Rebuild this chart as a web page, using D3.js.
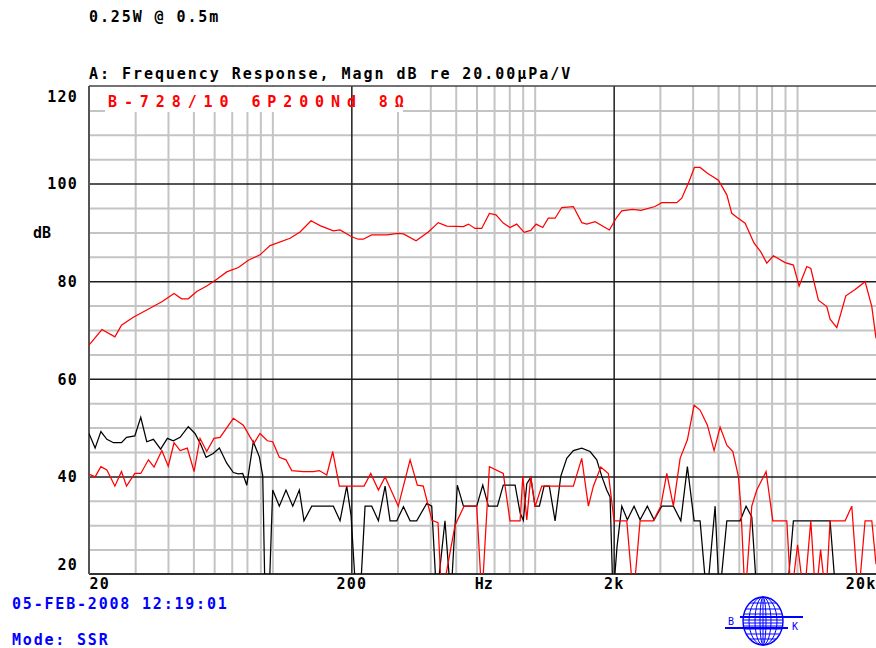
<!DOCTYPE html>
<html><head><meta charset="utf-8">
<script src="https://cdn.jsdelivr.net/npm/d3@7"></script>
<style>
html,body{margin:0;padding:0;background:#fff;}
svg{display:block;}
text{font-family:"DejaVu Sans Mono",monospace;}
</style></head><body>
<svg id="c" width="876" height="648"></svg>
<script>
// ---- data ----
const mainFreq = [20,22.4,25.1,26.6,29.5,33.2,37.9,42.2,45.1,47.8,51.5,56.2,61.4,67,74.2,81,89.7,98,116.8,127.5,140.4,152,170.8,181,200.7,212.6,222,239,273,302,316,353,393,429,462,535,559,592,628,672,712,759,805,854,911,966,1012,1073,1127,1196,1268,1404,1512,1580,1699,1926,2055,2147,2362,2544,2876,3050,3480,3636,3854,4063,4270,4554,5015,5400,5640,5894,6340,6861,7276,7670,8128,9008,9686,10184,10896,11286,12064,12988,13366,14178,15344,16650,18177,19278,20000];
const mainDb = [66.9,70.1,68.6,71.0,72.6,74.1,75.8,77.5,76.4,76.4,77.9,79.0,80.4,81.9,82.8,84.3,85.4,87.3,88.8,90.1,92.4,91.4,90.3,90.5,89.1,88.6,88.6,89.5,89.5,89.8,89.7,88.3,90.1,92.0,91.3,91.2,91.7,90.8,90.8,93.9,93.6,91.9,91.0,91.7,90.0,90.4,91.7,91.0,92.9,92.9,95.1,95.3,92.0,91.7,92.2,90.5,93.1,94.4,94.7,94.5,95.3,96.1,96.1,97.0,100.1,103.3,103.3,102.1,100.7,97.7,93.9,93.1,91.9,87.8,86.0,83.7,85.2,83.8,83.3,79.0,83.0,82.6,76.1,74.8,72.2,70.5,77.0,78.3,79.9,74.8,68.3];

const h2Freq = [20,21.1,22.2,23.4,25.1,26.6,27.8,29.9,31.5,33.7,35.4,37.9,40.1,42.2,44.5,47.4,50.3,53.0,56.2,59.9,63.2,71.0,77.5,82.2,85.1,89.7,95.7,100.3,106.3,112.7,118.5,131.2,143.3,151.0,161.2,169.9,180.0,223.6,237.2,253.6,269,302,335,357,376,406,428,442,497,538,601,629,672,759,805,880,901,933,966,1003,1064,1404,1511,1602,1674,1786,1909,2007,2244,2378,2522,2834,3024,3188,3378,3584,3820,4052,4270,4554,4828,5090,5400,5692,5978,6106,6339,6722,7024,7622,8084,9142,9494,10050,10640,11284,11780,12300,12874,13366,15250,16172,17140,18172,19278,20000];
const h2Db = [40.5,39.9,42.0,41.3,38.0,41.0,38.0,40.6,40.6,43.4,41.9,45.3,42.1,46.9,45.3,45.8,41.0,47.8,45.1,47.8,48.0,51.9,50.5,48.1,46.8,48.8,47.3,47.1,43.9,43.4,41.2,41.0,41.0,41.2,40.3,45.1,38.0,38.0,40.6,37.2,39.9,33.9,43.4,38.2,38.0,31,30.5,15,30,33.9,33.9,15,42.0,40.6,30.9,30.9,40.0,31.1,40.0,33.8,38.0,38.0,43.7,33.9,38.0,41.9,40.6,30.9,30.9,15,30.9,30.9,33.9,40.6,33.9,43.7,47.5,54.6,53.6,50.5,45.3,50.1,46.4,45.1,40.0,33.9,15,33.9,37.2,41.0,30.9,30.9,15,26,15,30.9,15,25,15,30.9,30.9,33.9,15,30.9,30.9,22];

const h3Freq = [20,21.1,22.2,23.4,24.8,26.6,27.8,29.9,31.5,33.2,35.2,37.5,39.8,41.9,44.5,47.8,50.7,53.3,55.9,59.5,62.8,67.0,71.0,74.2,77.1,79.9,84.6,89.2,91.9,93.8,97.1,100.3,106.3,112.7,119.6,126.7,132,141.3,170.8,181.1,192.1,199.5,208.5,216,225.6,239.2,253.6,269,281,298,316,335,355,388,405,423,455,479,507,535,601,634,666,721,759,842,880,905,933,966,1003,1042,1086,1137,1196,1257,1325,1404,1511,1626,1724,1802,1882,1938,1989,2060,2148,2256,2392,2522,2688,2852,3050,3378,3606,3820,4052,4270,4530,4872,5058,5400,6068,6394,6722,7042,9142,9686,13366,14092,20000];
const h3Db = [48.8,45.8,49.2,47.6,46.9,46.9,48.0,48.3,52.1,47.1,47.6,45.6,47.8,47.3,48.0,50.2,48.8,46.6,43.9,44.7,45.8,42.7,40.8,40.5,40.6,38.2,47.1,44.0,40.1,15,15,37.2,33.9,37.2,33.9,37.2,30.9,33.9,33.9,30.9,38.0,32,15,15,33.9,33.9,30.9,38.0,30.9,30.9,33.8,30.9,30.9,34.5,33.9,15,30.9,15,38.2,33.9,33.9,38.2,33.9,33.9,38.2,38.2,32.5,31,38.5,39.8,33.9,33.9,38.0,38.0,30.9,40.0,43.7,45.3,45.8,45.1,43.4,40.0,37.2,35.8,15,25.6,33.9,31.1,33.9,31.1,33.9,31.1,33.9,33.9,30.9,42.0,30.9,30.9,15,33.9,15,30.9,30.9,33.9,31.7,15,15,30.9,30.9,15,15];

const xTickVals = [20,200,2000,20000];
const xTickLabels = ["20","200","2k","20k"];
const xMinorTicks = [30,40,50,60,70,80,90,100,300,400,500,600,700,800,900,1000,3000,4000,5000,6000,7000,8000,9000,10000];
const xMajorTicks = [200,2000];
const yTickVals = [20,40,60,80,100,120];
const yTickLabels = ["20","40","60","80","100","120"];
const yMinorTicks = [25,30,35,45,50,55,65,70,75,85,90,95,105,110,115];
const yMajorTicks = [40,60,80,100];

const header1 = "0.25W @ 0.5m";
const header2 = "A: Frequency Response, Magn dB re 20.00\u00B5Pa/V";
const legendText = "B-728/10 6P200Nd 8\u03A9";
const dateText = "05-FEB-2008 12:19:01";
const modeText = "Mode: SSR";

// ---- drawing ----
const svg = d3.select("#c");
const L = 89, R = 876, T = 86, B = 574;
const x = d3.scaleLog().domain([20, 20000]).range([L, R]);
const y = d3.scaleLinear().domain([20, 120]).range([B, T]);
const GRAY = "#c4c4c4", DARK = "#1e1e1e", BLUE = "#0000ff";

// minor grid
svg.append("g").attr("transform", `translate(0,${B})`)
  .call(d3.axisBottom(x).tickValues(xMinorTicks).tickSize(-(B - T)).tickFormat(""))
  .call(g => g.select(".domain").remove())
  .selectAll("line").attr("stroke", GRAY).attr("stroke-width", 2);
svg.append("g").attr("transform", `translate(${L},0)`)
  .call(d3.axisLeft(y).tickValues(yMinorTicks).tickSize(-(R - L)).tickFormat(""))
  .call(g => g.select(".domain").remove())
  .selectAll("line").attr("stroke", GRAY).attr("stroke-width", 2);

// legend background
svg.append("rect").attr("x", 105).attr("y", 87).attr("width", 298).attr("height", 25).attr("fill", "#fff");

// major grid
svg.append("g").attr("transform", `translate(0,${B})`)
  .call(d3.axisBottom(x).tickValues(xMajorTicks).tickSize(-(B - T)).tickFormat(""))
  .call(g => g.select(".domain").remove())
  .selectAll("line").attr("stroke", DARK).attr("stroke-width", 1.5);
svg.append("g").attr("transform", `translate(${L},0)`)
  .call(d3.axisLeft(y).tickValues(yMajorTicks).tickSize(-(R - L)).tickFormat(""))
  .call(g => g.select(".domain").remove())
  .selectAll("line").attr("stroke", DARK).attr("stroke-width", 1.5);

// frame
svg.append("line").attr("x1", L).attr("x2", R).attr("y1", T).attr("y2", T).attr("stroke", "#444").attr("stroke-width", 1.5);
svg.append("line").attr("x1", L).attr("x2", R).attr("y1", B).attr("y2", B).attr("stroke", "#333").attr("stroke-width", 2);
svg.append("line").attr("x1", L).attr("x2", L).attr("y1", T).attr("y2", B).attr("stroke", "#555").attr("stroke-width", 2);

// curves
svg.append("clipPath").attr("id", "clip").append("rect")
  .attr("x", L).attr("y", T).attr("width", R - L).attr("height", B - T);
const line = d3.line().x(d => x(d[0])).y(d => y(d[1]));
const plotG = svg.append("g").attr("clip-path", "url(#clip)");
plotG.append("path").datum(d3.zip(h3Freq, h3Db)).attr("d", line)
  .attr("fill", "none").attr("stroke", "#000").attr("stroke-width", 1.25);
plotG.append("path").datum(d3.zip(h2Freq, h2Db)).attr("d", line)
  .attr("fill", "none").attr("stroke", "#ff0000").attr("stroke-width", 1.25);
plotG.append("path").datum(d3.zip(mainFreq, mainDb)).attr("d", line)
  .attr("fill", "none").attr("stroke", "#ff0000").attr("stroke-width", 1.25);

// legend text
svg.append("text").attr("x", 108).attr("y", 107).text(legendText)
  .attr("fill", "#ff0000").attr("font-weight", "bold").attr("font-size", 15)
  .style("letter-spacing", "6.9px");

// y axis labels
const yAx = svg.append("g").attr("transform", `translate(${L},0)`)
  .call(d3.axisLeft(y).tickValues(yTickVals).tickFormat((d, i) => yTickLabels[i]).tickSize(0).tickPadding(11));
yAx.select(".domain").remove();
yAx.selectAll("text").attr("font-family", "DejaVu Sans Mono").attr("font-weight", "bold")
  .attr("font-size", 15).attr("fill", "#000").style("letter-spacing", "1.2px")
  .attr("dy", d => d === 120 ? "1.05em" : d === 20 ? "-0.27em" : "0.35em");

// x axis labels
const xAx = svg.append("g").attr("transform", `translate(0,${B})`)
  .call(d3.axisBottom(x).tickValues(xTickVals).tickFormat((d, i) => xTickLabels[i]).tickSize(0).tickPadding(4));
xAx.select(".domain").remove();
xAx.selectAll("text").attr("font-family", "DejaVu Sans Mono").attr("font-weight", "bold")
  .attr("font-size", 15).attr("fill", "#000").style("letter-spacing", "1.2px")
  .attr("text-anchor", (d, i) => i === 0 ? "start" : i === xTickVals.length - 1 ? "end" : "middle");
svg.append("text").attr("x", x(640)).attr("y", 589).attr("text-anchor", "middle")
  .attr("font-weight", "bold").attr("font-size", 15).text("Hz");
svg.append("text").attr("x", 33).attr("y", 238)
  .attr("font-weight", "bold").attr("font-size", 15).text("dB");

// headers
svg.append("text").attr("x", 89).attr("y", 22).text(header1)
  .attr("font-weight", "bold").attr("font-size", 15).style("letter-spacing", "1.9px");
svg.append("text").attr("x", 89).attr("y", 79).text(header2)
  .attr("font-weight", "bold").attr("font-size", 15).style("letter-spacing", "1.95px");

// footer
svg.append("text").attr("x", 12).attr("y", 609).text(dateText)
  .attr("fill", BLUE).attr("font-weight", "bold").attr("font-size", 15).style("letter-spacing", "1.8px");
svg.append("text").attr("x", 12).attr("y", 645).text(modeText)
  .attr("fill", BLUE).attr("font-weight", "bold").attr("font-size", 15).style("letter-spacing", "1.8px");

// B&K logo
const lg = svg.append("g").attr("stroke", BLUE).attr("fill", "none").attr("stroke-width", 1);
const cx = 763, cy = 621, rx = 20, ry = 24;
lg.append("ellipse").attr("cx", cx).attr("cy", cy).attr("rx", rx).attr("ry", ry).attr("stroke-width", 1.4);
[14, 8, 3].forEach(r => lg.append("ellipse").attr("cx", cx).attr("cy", cy).attr("rx", r).attr("ry", ry));
lg.append("line").attr("x1", cx).attr("x2", cx).attr("y1", cy - ry).attr("y2", cy + ry);
[-18, -12, -7, -4, -1, 2, 5, 8, 13, 18].forEach(dy => {
  const hw = rx * Math.sqrt(1 - (dy / ry) * (dy / ry));
  lg.append("line").attr("x1", cx - hw).attr("x2", cx + hw).attr("y1", cy + dy).attr("y2", cy + dy);
});
lg.append("line").attr("x1", 740).attr("x2", 803).attr("y1", 617).attr("y2", 617).attr("stroke-width", 2);
lg.append("line").attr("x1", 725).attr("x2", 788).attr("y1", 628).attr("y2", 628).attr("stroke-width", 2);
svg.append("text").attr("x", 728).attr("y", 625).attr("fill", BLUE)
  .attr("font-family", "DejaVu Sans").attr("font-size", 10).text("B");
svg.append("text").attr("x", 792).attr("y", 630).attr("fill", BLUE)
  .attr("font-family", "DejaVu Sans").attr("font-size", 10).text("K");
</script>
</body></html>
